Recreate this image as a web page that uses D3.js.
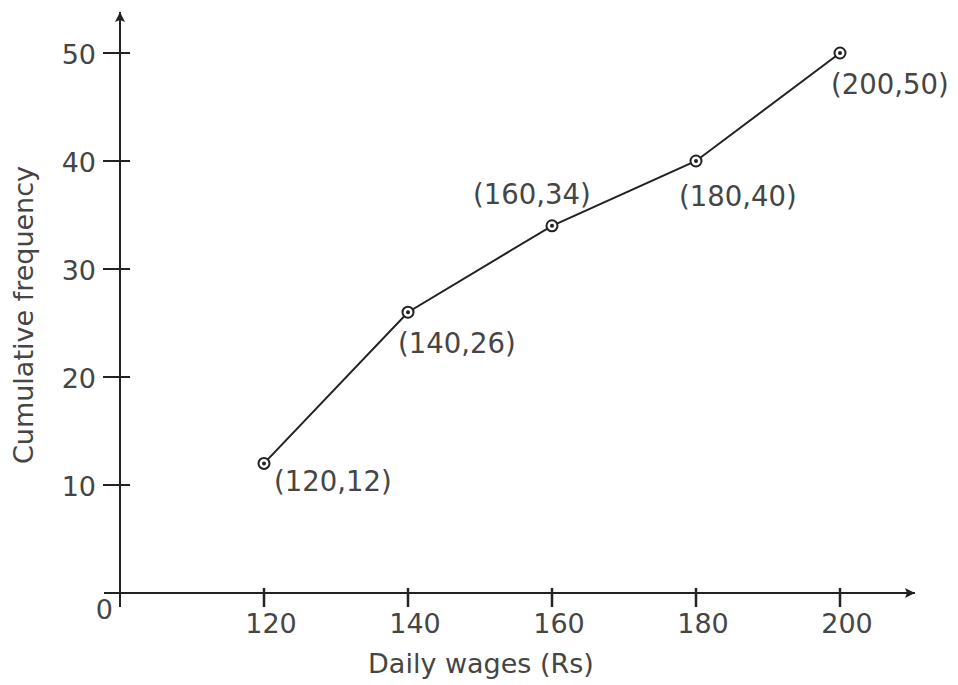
<!DOCTYPE html>
<html><head><meta charset="utf-8">
<script src="https://cdn.jsdelivr.net/npm/d3@7"></script>
<style>body{margin:0;background:#fff}svg{display:block}text{font-family:"DejaVu Sans",Verdana,sans-serif;fill:#454545}</style>
</head><body>
<script>
const wages = [120, 140, 160, 180, 200];
const cumFreq = [12, 26, 34, 40, 50];
const xTicks = [120, 140, 160, 180, 200];
const yTicks = [10, 20, 30, 40, 50];
const xTitle = "Daily wages (Rs)";
const yTitle = "Cumulative frequency";

const W = 958, H = 685;
const svg = d3.select("body").append("svg").attr("width", W).attr("height", H);
const x = d3.scaleLinear().domain([100, 200]).range([120, 840]);
const y = d3.scaleLinear().domain([0, 50]).range([593, 53]);
const ink = "#222";

svg.append("defs").append("marker").attr("id","arr").attr("viewBox","0 0 10 10")
  .attr("refX",10).attr("refY",5).attr("markerWidth",11).attr("markerHeight",10)
  .attr("markerUnits","userSpaceOnUse").attr("orient","auto")
  .append("path").attr("d","M0,0L10,5L0,10L2,5Z").attr("fill",ink);

// axes lines
svg.append("line").attr("x1",104).attr("x2",915).attr("y1",y(0)).attr("y2",y(0))
  .attr("stroke",ink).attr("stroke-width",2).attr("marker-end","url(#arr)");
svg.append("line").attr("x1",x(100)).attr("x2",x(100)).attr("y1",607).attr("y2",12)
  .attr("stroke",ink).attr("stroke-width",2).attr("marker-end","url(#arr)");

// x ticks
const xg = svg.append("g");
xg.selectAll("line").data(xTicks).join("line")
  .attr("x1",d=>x(d)).attr("x2",d=>x(d)).attr("y1",y(0)-5).attr("y2",y(0)+14)
  .attr("stroke",ink).attr("stroke-width",2.5);
xg.selectAll("text").data(xTicks).join("text")
  .attr("x",d=>x(d)+7).attr("y",y(0)+40).attr("text-anchor","middle")
  .attr("font-size",27).text(d=>d);

// y ticks
const yg = svg.append("g");
yg.selectAll("line").data(yTicks).join("line")
  .attr("x1",x(100)-17).attr("x2",x(100)+10).attr("y1",d=>y(d)).attr("y2",d=>y(d))
  .attr("stroke",ink).attr("stroke-width",2);
yg.selectAll("text").data(yTicks).join("text")
  .attr("x",x(100)-24).attr("y",d=>y(d)+11).attr("text-anchor","end")
  .attr("font-size",27).text(d=>d);

svg.append("text").attr("x",x(100)-7).attr("y",y(0)+26).attr("text-anchor","end")
  .attr("font-size",27).text("0");

// titles
svg.append("text").attr("x",481).attr("y",673).attr("text-anchor","middle")
  .attr("font-size",27).text(xTitle);
svg.append("text").attr("transform","translate(33,315) rotate(-90)").attr("text-anchor","middle")
  .attr("font-size",27).text(yTitle);

// line
const pts = wages.map((w,i)=>[w,cumFreq[i]]);
svg.append("path").datum(pts)
  .attr("d", d3.line().x(d=>x(d[0])).y(d=>y(d[1])))
  .attr("fill","none").attr("stroke",ink).attr("stroke-width",2);

// markers
const mg = svg.append("g");
mg.selectAll("circle.o").data(pts).join("circle").attr("class","o")
  .attr("cx",d=>x(d[0])).attr("cy",d=>y(d[1])).attr("r",5.5)
  .attr("fill","#fff").attr("stroke",ink).attr("stroke-width",2);
mg.selectAll("circle.i").data(pts).join("circle").attr("class","i")
  .attr("cx",d=>x(d[0])).attr("cy",d=>y(d[1])).attr("r",2).attr("fill",ink);

// point labels
const labelOff = [[10,28],[-10,41],[-79,-22],[-17,45],[-9,41]];
svg.append("g").selectAll("text").data(pts).join("text")
  .attr("x",(d,i)=>x(d[0])+labelOff[i][0]).attr("y",(d,i)=>y(d[1])+labelOff[i][1])
  .attr("font-size",27.5).text(d=>`(${d[0]},${d[1]})`);
</script>
</body></html>
